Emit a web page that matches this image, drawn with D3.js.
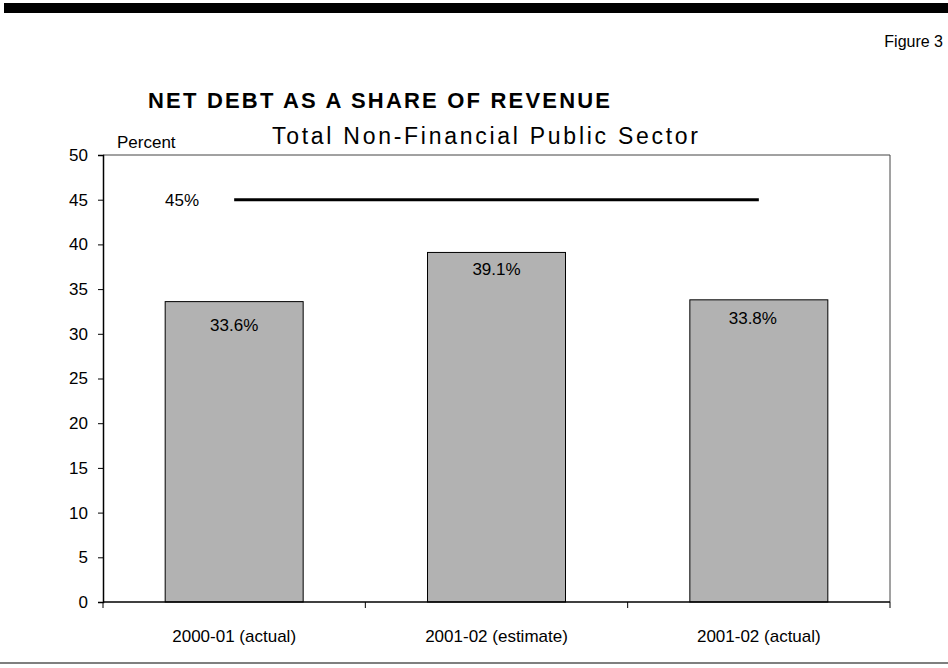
<!DOCTYPE html>
<html>
<head>
<meta charset="utf-8">
<script src="https://cdn.jsdelivr.net/npm/d3@7"></script>
<style>
  html, body { margin: 0; padding: 0; background: #fff; }
  svg { display: block; font-family: Arial, "Liberation Sans", Helvetica, sans-serif; }
</style>
</head>
<body>
<svg id="chart" width="948" height="668"></svg>
<script>
// Net debt as a share of revenue, per fiscal year
const categories = ["2000-01 (actual)", "2001-02 (estimate)", "2001-02 (actual)"];
const values = [33.6, 39.1, 33.8];
const valueLabels = ["33.6%", "39.1%", "33.8%"];
const ceilingValue = 45;
const ceilingLabel = "45%";
const yTicks = [0, 5, 10, 15, 20, 25, 30, 35, 40, 45, 50];

// small per-label nudges for the in-bar value labels (dx, dy from bar top)
const labelNudges = [[0, 29], [0, 23], [-6, 24]];

const svg = d3.select("#chart");
const plot = { left: 103, right: 890, top: 155, bottom: 602 };

const x = d3.scaleBand()
  .domain(categories)
  .range([plot.left, plot.right])
  .paddingInner(0.474)
  .paddingOuter(0.237);

const y = d3.scaleLinear().domain([0, 50]).range([plot.bottom, plot.top]);

// page rules
svg.append("rect").attr("x", 4).attr("y", 3).attr("width", 944).attr("height", 10).attr("fill", "#000");
svg.append("line").attr("x1", 0).attr("x2", 948).attr("y1", 663).attr("y2", 663)
  .attr("stroke", "#000").attr("stroke-width", 1.2);

// headings
svg.append("text").attr("x", 943).attr("y", 47).attr("text-anchor", "end")
  .attr("font-size", 16).attr("fill", "#000").text("Figure 3");
svg.append("text").attr("x", 148).attr("y", 108)
  .attr("font-size", 22).attr("font-weight", "bold").attr("fill", "#000")
  .attr("textLength", 462).attr("lengthAdjust", "spacing")
  .text("NET DEBT AS A SHARE OF REVENUE");
svg.append("text").attr("x", 272).attr("y", 144)
  .attr("font-size", 23).attr("fill", "#000")
  .attr("textLength", 426).attr("lengthAdjust", "spacing")
  .text("Total Non-Financial Public Sector");
svg.append("text").attr("x", 117).attr("y", 148)
  .attr("font-size", 17).attr("fill", "#000").text("Percent");

// plot frame (top and right)
svg.append("path")
  .attr("d", `M${plot.left},${plot.top}H${plot.right}V${plot.bottom}`)
  .attr("fill", "none").attr("stroke", "#444").attr("stroke-width", 1);

// bars
svg.append("g").selectAll("rect")
  .data(values)
  .join("rect")
  .attr("x", (d, i) => x(categories[i]))
  .attr("y", d => y(d))
  .attr("width", x.bandwidth())
  .attr("height", d => y(0) - y(d))
  .attr("fill", "#b2b2b2")
  .attr("stroke", "#000")
  .attr("stroke-width", 1);

// value labels
svg.append("g").selectAll("text")
  .data(values)
  .join("text")
  .attr("x", (d, i) => x(categories[i]) + x.bandwidth() / 2 + labelNudges[i][0])
  .attr("y", (d, i) => y(d) + labelNudges[i][1])
  .attr("text-anchor", "middle")
  .attr("font-size", 17)
  .attr("fill", "#000")
  .text((d, i) => valueLabels[i]);

// 45% ceiling line across category centres
const c0 = x(categories[0]) + x.bandwidth() / 2;
const c2 = x(categories[categories.length - 1]) + x.bandwidth() / 2;
svg.append("line")
  .attr("x1", c0).attr("x2", c2)
  .attr("y1", y(ceilingValue)).attr("y2", y(ceilingValue))
  .attr("stroke", "#000").attr("stroke-width", 3);
svg.append("text")
  .attr("x", 182).attr("y", y(ceilingValue) + 6)
  .attr("text-anchor", "middle").attr("font-size", 17).attr("fill", "#000")
  .text(ceilingLabel);

// y axis
const yAxis = svg.append("g")
  .attr("transform", `translate(${plot.left},0)`)
  .call(d3.axisLeft(y).tickValues(yTicks).tickSize(5).tickPadding(10));
yAxis.select(".domain").attr("stroke", "#000").attr("stroke-width", 1.5);
yAxis.selectAll(".tick line").attr("stroke", "#000");
yAxis.selectAll(".tick text").attr("font-size", 17).attr("fill", "#000")
  .attr("font-family", "Arial, 'Liberation Sans', sans-serif");

// x axis with ticks on category boundaries
const xAxis = svg.append("g").attr("transform", `translate(0,${plot.bottom})`);
xAxis.append("line").attr("x1", plot.left).attr("x2", plot.right)
  .attr("stroke", "#000").attr("stroke-width", 1.5);
const bounds = categories.map(c => x(c) - x.step() * x.paddingInner() / 2)
  .concat([plot.right]);
xAxis.selectAll("line.tick")
  .data(bounds)
  .join("line")
  .attr("class", "tick")
  .attr("x1", d => d).attr("x2", d => d)
  .attr("y1", 0).attr("y2", 6)
  .attr("stroke", "#000").attr("stroke-width", 1);
xAxis.selectAll("text")
  .data(categories)
  .join("text")
  .attr("x", d => x(d) + x.bandwidth() / 2)
  .attr("y", 40)
  .attr("text-anchor", "middle")
  .attr("font-size", 17)
  .attr("fill", "#000")
  .text(d => d);
</script>
</body>
</html>
